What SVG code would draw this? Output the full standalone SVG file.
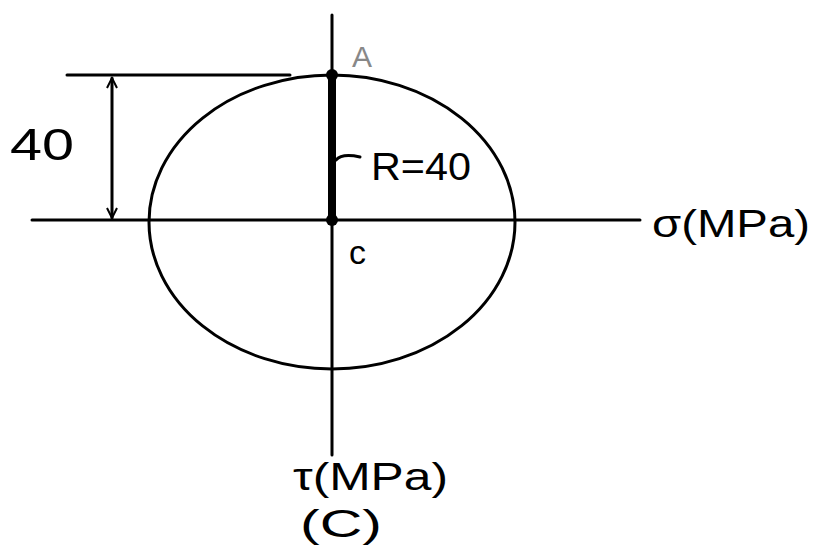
<svg xmlns="http://www.w3.org/2000/svg" width="814" height="550" viewBox="0 0 814 550">
<style>
.ln{stroke:#000;stroke-width:3;fill:none;stroke-linecap:round}
.t{font-family:"Liberation Sans",Arial,sans-serif;fill:#000}
</style>
<defs>
<marker id="ah" viewBox="0 0 12 12" refX="11" refY="6" markerWidth="12" markerHeight="12" markerUnits="userSpaceOnUse" orient="auto-start-reverse">
<path d="M1,1 L11,6 L1,11" fill="none" stroke="#000" stroke-width="2"/>
</marker>
</defs>
<rect width="814" height="550" fill="#fff"/>
<g id="circle">
<ellipse cx="332" cy="222" rx="183" ry="147" class="ln"/>
</g>
<g id="connectors">
<line x1="32" y1="220" x2="640" y2="220" class="ln"/>
<line x1="332" y1="15" x2="332" y2="455" class="ln"/>
<line x1="67" y1="75" x2="290" y2="75" class="ln"/>
<line x1="112" y1="78" x2="112" y2="218" class="ln" stroke-width="2.5" marker-start="url(#ah)" marker-end="url(#ah)"/>
<line x1="332" y1="75" x2="332" y2="220" stroke="#000" stroke-width="8"/>
<path d="M336,160 Q342,153 360,157" class="ln" stroke-width="2.5"/>
</g>
<g id="pointA">
<circle cx="332" cy="75" r="6" fill="#000"/>
<text x="352" y="67" class="t" font-size="30" fill="#888" style="fill:#888">A</text>
</g>
<g id="pointC">
<circle cx="332" cy="220" r="6" fill="#000"/>
<text x="349" y="264" class="t" font-size="34">c</text>
</g>
<g id="label40">
<text x="10" y="160" class="t" font-size="44" textLength="64" lengthAdjust="spacingAndGlyphs">40</text>
</g>
<g id="labelR">
<text x="371" y="180" class="t" font-size="38" textLength="100" lengthAdjust="spacingAndGlyphs">R=40</text>
</g>
<g id="sigma">
<text x="652" y="237" class="t" font-size="38" textLength="158" lengthAdjust="spacingAndGlyphs">σ(MPa)</text>
</g>
<g id="tau">
<text x="293" y="490" class="t" font-size="38" textLength="155" lengthAdjust="spacingAndGlyphs">τ(MPa)</text>
<text x="300" y="537" class="t" font-size="38" textLength="82" lengthAdjust="spacingAndGlyphs">(C)</text>
</g>
</svg>
